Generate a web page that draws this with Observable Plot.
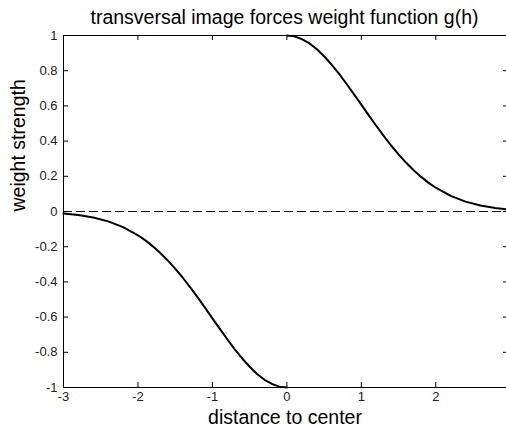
<!DOCTYPE html>
<html>
<head>
<meta charset="utf-8">
<script src="https://cdn.jsdelivr.net/npm/d3@7"></script>
<script src="https://cdn.jsdelivr.net/npm/@observablehq/plot@0.6"></script>
<style>
  body { margin: 0; background: #fff; overflow: hidden; font-family: "Liberation Sans", Arial, sans-serif; }
  #title { height: 30px; margin-left: 63px; text-align: center; font-size: 19.5px; line-height: 19.5px; padding-top: 8px; box-sizing: border-box; color: #000; white-space: nowrap; }
</style>
</head>
<body>
<div id="title">transversal image forces weight function g(h)</div>
<div id="chart"></div>
<script>
// weight g(h) for positive distances
const hPos = [0, 0.1, 0.2, 0.3, 0.4, 0.5, 0.6, 0.7, 0.8, 0.9, 1.0, 1.1, 1.2, 1.3, 1.4, 1.5, 1.6, 1.7, 1.8, 1.9, 2.0, 2.2, 2.4, 2.6, 2.8, 2.95];
const gPos = [1, 0.995, 0.98, 0.956, 0.923, 0.882, 0.835, 0.783, 0.726, 0.667, 0.607, 0.546, 0.487, 0.43, 0.375, 0.325, 0.278, 0.236, 0.198, 0.164, 0.135, 0.089, 0.056, 0.034, 0.02, 0.013];

// weight g(h) for negative distances
const hNeg = [-3, -2.8, -2.6, -2.4, -2.2, -2.0, -1.9, -1.8, -1.7, -1.6, -1.5, -1.4, -1.3, -1.2, -1.1, -1.0, -0.9, -0.8, -0.7, -0.6, -0.5, -0.4, -0.3, -0.2, -0.1, 0];
const gNeg = [-0.011, -0.02, -0.034, -0.056, -0.089, -0.135, -0.164, -0.198, -0.236, -0.278, -0.325, -0.375, -0.43, -0.487, -0.546, -0.607, -0.667, -0.726, -0.783, -0.835, -0.882, -0.923, -0.956, -0.98, -0.995, -1];

const xTicks = [-3, -2, -1, 0, 1, 2];
const yTicks = [-1, -0.8, -0.6, -0.4, -0.2, 0, 0.2, 0.4, 0.6, 0.8, 1];

const pos = hPos.map((h, i) => ({h, g: gPos[i]}));
const neg = hNeg.map((h, i) => ({h, g: gNeg[i]}));

// plain hyphen-minus labels
const fmt = d => String(d);

const W = 506, H = 397, ML = 63, MR = 0, MT = 5, MB = 40;
const innerW = W - ML - MR, innerH = H - MT - MB;
const TICK = 5;

const chart = Plot.plot({
  width: W,
  height: H,
  marginLeft: ML,
  marginRight: MR,
  marginTop: MT,
  marginBottom: MB,
  style: {fontFamily: "Liberation Sans, Arial, sans-serif", fontSize: "13px", color: "#000", background: "#fff", overflow: "visible"},
  x: {domain: [-3, 2.95]},
  y: {domain: [-1, 1]},
  marks: [
    Plot.ruleY([0], {stroke: "#111", strokeDasharray: "9,4"}),
    // box edges
    Plot.ruleY([-1, 1], {stroke: "#000"}),
    Plot.ruleX([-3], {stroke: "#000"}),
    // short tick strokes pointing into the box on all four sides
    Plot.ruleX(xTicks, {x: d => d, insetTop: innerH - TICK, stroke: "#000"}),
    Plot.ruleX(xTicks, {x: d => d, insetBottom: innerH - TICK, stroke: "#000"}),
    Plot.ruleY(yTicks, {y: d => d, insetRight: innerW - TICK, stroke: "#000"}),
    Plot.ruleY(yTicks, {y: d => d, insetLeft: innerW - 3, stroke: "#000"}),
    // tick labels
    Plot.axisX(xTicks, {anchor: "bottom", tickSize: 0, tickPadding: 4, tickFormat: fmt, label: null, fill: "#222"}),
    Plot.axisY(yTicks, {anchor: "left", tickSize: 0, tickPadding: 6, tickFormat: fmt, label: null, fill: "#222"}),
    // axis titles
    Plot.text(["distance to center"], {frameAnchor: "bottom", dy: 23, fontSize: 19.5, lineAnchor: "top", fill: "#000"}),
    Plot.text(["weight strength"], {frameAnchor: "left", dx: -45, rotate: -90, fontSize: 19.5, fill: "#000"}),
    // the two branches of g(h)
    Plot.line(neg, {x: "h", y: "g", stroke: "#000", strokeWidth: 2}),
    Plot.line(pos, {x: "h", y: "g", stroke: "#000", strokeWidth: 2})
  ]
});
document.getElementById("chart").append(chart);
</script>
</body>
</html>
